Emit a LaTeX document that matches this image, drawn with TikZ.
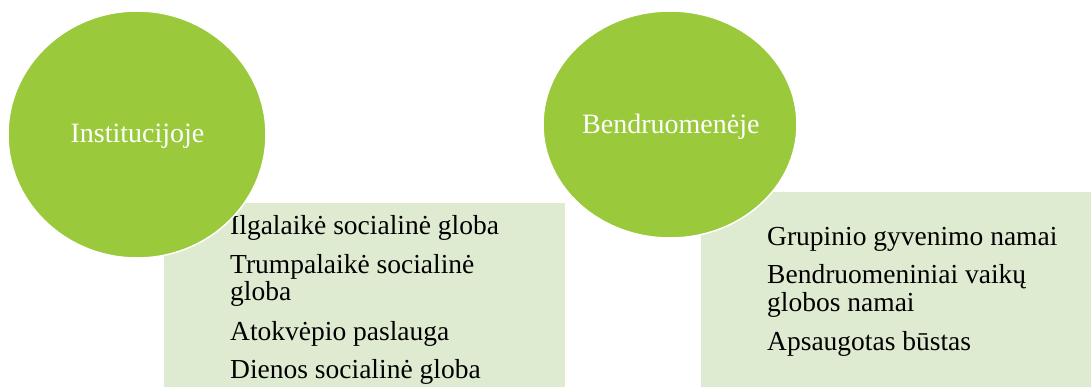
\documentclass[tikz,border=0pt]{standalone}
\usepackage{fontspec}
\setmainfont{Liberation Serif}
\usetikzlibrary{shapes.geometric}
\definecolor{circgreen}{RGB}{154,202,59}
\definecolor{boxgreen}{RGB}{223,235,209}
\tikzset{
  boxbg/.style={fill=boxgreen, draw=none, inner sep=0pt},
  bubble/.style={ellipse, fill=circgreen, draw=white, line width=1.5pt, inner sep=0pt},
  bubbletext/.style={text=white, font=\fontsize{28}{32}\selectfont, anchor=base, inner sep=0pt},
  itemtext/.style={text=black, font=\fontsize{27.5}{32}\selectfont, anchor=base west, inner sep=0pt},
}
\begin{document}
\begin{tikzpicture}[x=1pt,y=-1pt]
\useasboundingbox (0,0) rectangle (1091,387);
% boxes
\node[boxbg, minimum width=401pt, minimum height=184pt, anchor=north west] (boxL) at (164,203) {};
\node[boxbg, minimum width=390pt, minimum height=195pt, anchor=north west] (boxR) at (701,192) {};
% left items
\node[itemtext] (l1) at (230,235) {Ilgalaikė socialinė globa};
\node[itemtext] (l2a) at (230,273) {Trumpalaikė socialinė};
\node[itemtext] (l2b) at (230,300) {globa};
\node[itemtext] (l3) at (230,340) {Atokvėpio paslauga};
\node[itemtext] (l4) at (230,378) {Dienos socialinė globa};
% right items
\node[itemtext] (r1) at (767,246) {Grupinio gyvenimo namai};
\node[itemtext] (r2a) at (767,283) {Bendruomeniniai vaikų};
\node[itemtext] (r2b) at (767,311) {globos namai};
\node[itemtext] (r3) at (767,350) {Apsaugotas būstas};
% circles
\node[bubble, minimum width=258pt, minimum height=247pt] (cL) at (137,134.5) {};
\node[bubble, minimum width=254pt, minimum height=227pt] (cR) at (670,124.5) {};
\node[bubbletext] (tL) at (137.5,143) {Institucijoje};
\node[bubbletext] (tR) at (670.8,134) {Bendruomenėje};
\end{tikzpicture}
\end{document}
